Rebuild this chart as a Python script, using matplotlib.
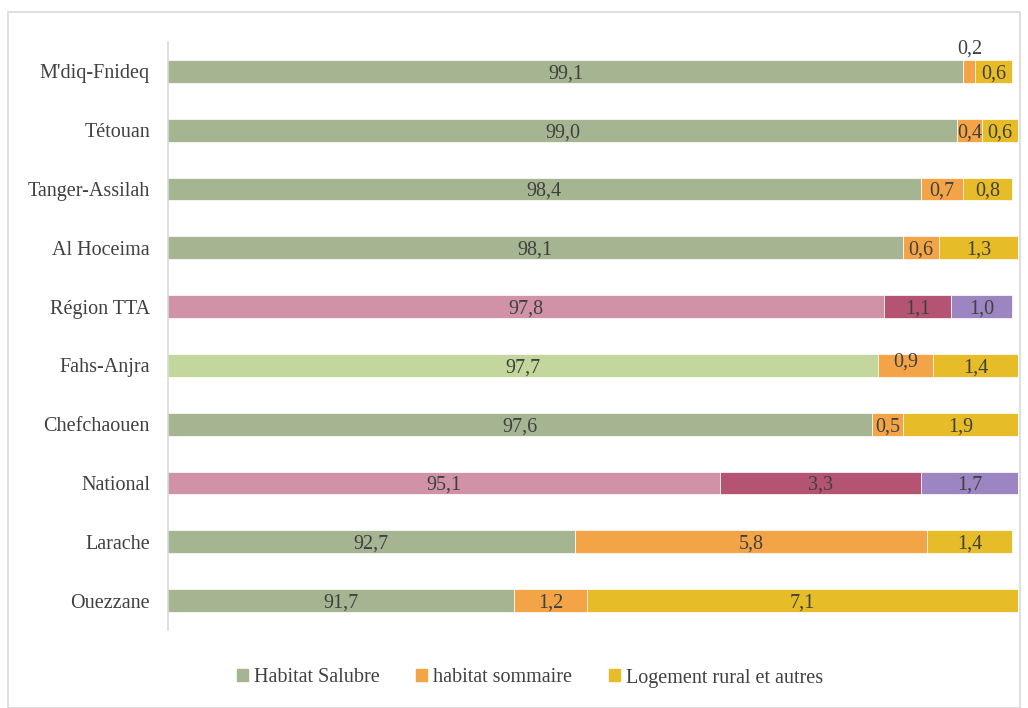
import matplotlib.pyplot as plt
from matplotlib.patches import Rectangle

plt.rcParams['font.family'] = ['Liberation Serif', 'DejaVu Serif']

regions = ["M'diq-Fnideq", "Tétouan", "Tanger-Assilah", "Al Hoceima", "Région TTA",
           "Fahs-Anjra", "Chefchaouen", "National", "Larache", "Ouezzane"]
salubre = [99.1, 99.0, 98.4, 98.1, 97.8, 97.7, 97.6, 95.1, 92.7, 91.7]
sommaire = [0.2, 0.4, 0.7, 0.6, 1.1, 0.9, 0.5, 3.3, 5.8, 1.2]
rural = [0.6, 0.6, 0.8, 1.3, 1.0, 1.4, 1.9, 1.7, 1.4, 7.1]
series_names = ["Habitat Salubre", "habitat sommaire", "Logement rural et autres"]

base_colors = ['#A5B592', '#F3A447', '#E6BC29']
special = {"Région TTA": ['#D092A7', '#B55472', '#9C85C0'],
           "National": ['#D092A7', '#B55472', '#9C85C0'],
           "Fahs-Anjra": ['#C3D69B', '#F3A447', '#E6BC29']}

xmin, xmax = 86, 100

fig = plt.figure(figsize=(10.28, 7.08), dpi=100)
fig.patches.append(Rectangle((8 / 1028, 0.0), 1012 / 1028, 1 - 12 / 708, transform=fig.transFigure,
                             fill=False, edgecolor='#D9D9D9', linewidth=1.2))
ax = fig.add_axes([168 / 1028, 78 / 708, 850 / 1028, 588 / 708])

n = len(regions)
ys = [n - 1 - i for i in range(n)]
txt = '#404040'
for i, name in enumerate(regions):
    cols = special.get(name, base_colors)
    left = 0
    for j, v in enumerate([salubre[i], sommaire[i], rural[i]]):
        ax.barh(ys[i], v, left=left, height=0.39, color=cols[j], edgecolor='white', linewidth=0.5)
        a, b = max(left, xmin), min(left + v, xmax)
        yy = ys[i]
        if name == "M'diq-Fnideq" and j == 1:
            yy = ys[i] + 0.42
        if name == "Fahs-Anjra" and j == 1:
            yy = ys[i] + 0.1
        ax.text((a + b) / 2, yy, f"{v:.1f}".replace('.', ','), ha='center', va='center_baseline',
                fontsize=14.5, color=txt)
        left += v

ax.set_xlim(xmin, xmax)
ax.set_ylim(-0.5, n - 0.5)
ax.set_yticks(ys)
ax.set_yticklabels(regions, fontsize=14.5, color=txt)
ax.tick_params(axis='y', length=0, pad=13)
ax.set_xticks([])
for s in ['top', 'right', 'bottom']:
    ax.spines[s].set_visible(False)
ax.spines['left'].set_color('#D9D9D9')
ax.spines['left'].set_linewidth(1.2)

handles = [Rectangle((0, 0), 1, 1, color=c) for c in base_colors]
fig.legend(handles, series_names, loc='center', bbox_to_anchor=(530 / 1028, 1 - 678 / 708),
           ncol=3, frameon=False, fontsize=14.5, handlelength=0.55, handleheight=0.55,
           handletextpad=0.3, columnspacing=1.8, labelcolor=txt)

fig.savefig('out.png', dpi=100)
